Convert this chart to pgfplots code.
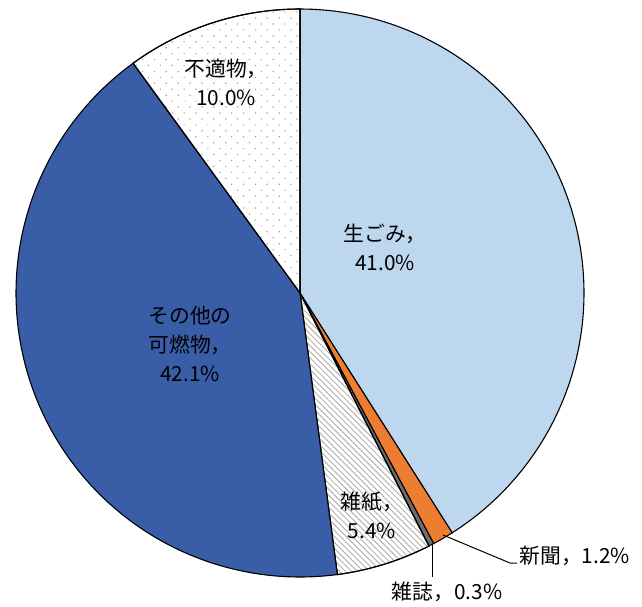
\documentclass[border=0pt]{standalone}
\usepackage{pgfplots}
\pgfplotsset{compat=1.18}
\usepackage{fontspec}
\setmainfont{Noto Sans CJK JP}
\usetikzlibrary{patterns.meta}

\definecolor{namagomi}{HTML}{BDD7EE}
\definecolor{shinbun}{HTML}{ED7D31}
\definecolor{zasshi}{HTML}{6E6E6E}
\definecolor{sonota}{HTML}{3A5DA8}
\definecolor{hatch}{HTML}{A8A8A8}

% running total of the shares drawn so far (percent)
\newcommand\cum{0}
% \slice{share in percent}{fill options}: wedge clockwise from 12 o'clock
\newcommand\slice[2]{%
  \pgfmathsetmacro\angA{3.6*\cum}%
  \pgfmathsetmacro\tmpcum{\cum+#1}%
  \xdef\cum{\tmpcum}%
  \pgfmathsetmacro\angB{3.6*\cum}%
  \edef\doslice{\noexpand\addplot[#2,draw=black,line width=0.55pt,
      domain=\angA:\angB,samples=120,variable=\noexpand\t]
    ({300+284*sin(\noexpand\t)},{293-284*cos(\noexpand\t)})
    -- (axis cs:300,293) -- cycle;}%
  \doslice}

\newcommand\lab{\fontsize{10.4}{14.6}\selectfont}

\begin{document}
\begin{tikzpicture}
\useasboundingbox (0,0) rectangle (321pt,303pt);
\begin{axis}[
  scale only axis, width=321pt, height=303pt,
  xmin=0, xmax=642, ymin=0, ymax=606, y dir=reverse,
  hide axis, clip=false, no markers,
]
% shares in percent, clockwise from the top
\slice{41.0}{fill=namagomi}
\slice{1.2}{fill=shinbun}
\slice{0.3}{fill=zasshi}
\slice{5.4}{fill=white,postaction={pattern={Lines[angle=-45,distance=2.1pt,line width=0.4pt]},pattern color=hatch}}
\slice{42.1}{fill=sonota}
\slice{10.0}{fill=white,postaction={pattern={Dots[angle=45,distance=4.2pt,radius=0.42pt]},pattern color=gray!75}}

% leader lines for the two narrow slices
\addplot[black,line width=0.5pt] coordinates {(443,535) (510,563) (517,563)};
\addplot[black,line width=0.5pt] coordinates {(432,545) (432,577)};

\node[align=center,font=\lab] at (axis cs:226,82) {不適物，\\10.0\%};
\node[align=center,font=\lab] at (axis cs:385,247) {生ごみ，\\41.0\%};
\node[align=center,font=\lab] at (axis cs:190,344) {その他の\\可燃物，\\42.1\%};
\node[align=center,font=\lab] at (axis cs:372,515) {雑紙，\\5.4\%};
\node[anchor=west,font=\lab,inner sep=1pt] at (axis cs:517,556) {新聞，1.2\%};
\node[font=\lab] at (axis cs:447,592) {雑誌，0.3\%};
\end{axis}
\end{tikzpicture}
\end{document}
